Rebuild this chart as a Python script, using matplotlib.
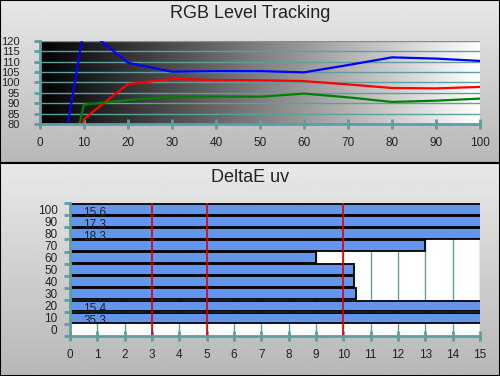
import numpy as np
import matplotlib
matplotlib.use("Agg")
import matplotlib.pyplot as plt

plt.rcParams['font.family'] = ['Liberation Sans', 'DejaVu Sans']

# RGB level tracking data
levels = [0, 10, 20, 30, 40, 50, 60, 70, 80, 90, 100]
blue = [0, 126.5, 109.4, 105.1, 105.4, 105.4, 104.8, 108.3, 112.0, 111.4, 110.3]
red = [0, 82.5, 99.2, 101.6, 101.1, 101.0, 100.6, 99.0, 97.3, 97.1, 97.8]
green = [0, 89.3, 91.5, 93.1, 93.2, 93.1, 94.6, 92.8, 90.6, 91.2, 92.2]

# DeltaE uv data
de_levels = ['0', '10', '20', '30', '40', '50', '60', '70', '80', '90', '100']
de_values = [0, 35.3, 15.4, 10.48, 10.40, 10.40, 9.0, 12.97, 18.3, 17.3, 15.6]
ref_lines = [3, 5, 10]

teal = '#5f9ea0'
W, H = 500, 376

fig = plt.figure(figsize=(5, 3.76), dpi=100)


def panel(bottom, height):
    """ Gray gradient panel with a black border """
    bg = fig.add_axes([0, bottom, 1, height], zorder=-5)
    grad = np.linspace(0.91, 0.72, 100).reshape(-1, 1)
    bg.imshow(grad, cmap='gray', vmin=0, vmax=1, aspect='auto',
              extent=[0, 1, 0, 1])
    bg.set_xlim(0, 1)
    bg.set_ylim(0, 1)
    bg.set_xticks([])
    bg.set_yticks([])
    for s in bg.spines.values():
        s.set_color('black')
        s.set_linewidth(1.5)
    return bg


split = 1 - 163 / H
panel(split, 1 - split)
panel(0, split)

# top chart
ax1 = fig.add_axes([40 / W, 1 - 124 / H, 440 / W, (124 - 40.7) / H])
grad = np.linspace(0, 1, 256).reshape(1, -1)
ax1.imshow(grad, cmap='gray', vmin=0, vmax=1, aspect='auto',
           extent=[0, 100, 80, 120], zorder=0)
for yv in range(80, 121, 5):
    ax1.axhline(yv, color=teal, lw=1, zorder=1)
ax1.plot(levels, blue, color='#0000ff', lw=1.6, zorder=3)
ax1.plot(levels, red, color='#ff0000', lw=1.6, zorder=3)
ax1.plot(levels, green, color='#008000', lw=1.6, zorder=3)
ax1.set_xlim(0, 100)
ax1.set_ylim(80, 120)
ax1.set_xticks(levels)
ax1.set_yticks(range(80, 121, 5))
for s in ['top', 'right']:
    ax1.spines[s].set_visible(False)
for s in ['left', 'bottom']:
    ax1.spines[s].set_color(teal)
    ax1.spines[s].set_linewidth(2)
    ax1.spines[s].set_zorder(4)
ax1.tick_params(axis='x', direction='inout', length=7, width=2, color=teal,
                labelsize=8.5, pad=6, labelcolor='#222222')
ax1.tick_params(axis='y', direction='out', length=4, width=2, color=teal,
                labelsize=8, pad=10.5, labelcolor='#222222')
fig.text(0.5, 1 - 14 / H, 'RGB Level Tracking', ha='center', va='center',
         fontsize=13, color='#222222')

# bottom chart
ax2 = fig.add_axes([70 / W, 1 - 336 / H, 410 / W, (336 - 203.3) / H])
ax2.set_facecolor('white')
ypos = np.arange(len(de_levels))
for xv in range(0, 16):
    ax2.axvline(xv, color=teal, lw=1, zorder=1)
ax2.barh(ypos, de_values, height=0.88, color='#6495ed', edgecolor='black',
         linewidth=1.3, zorder=2)
for xv in ref_lines:
    ax2.axvline(xv, color='#e00000', lw=1.2, zorder=3)
for y, v in zip(ypos, de_values):
    if v > 15:
        ax2.text(0.9, y - 0.28, f'{v:.1f}', ha='center', va='center',
                 fontsize=8.5, color='#222222', zorder=4)
ax2.set_xlim(0, 15)
ax2.set_ylim(-0.5, len(de_levels) - 0.5)
ax2.set_xticks(range(0, 16))
ax2.set_yticks(ypos)
ax2.set_yticklabels(de_levels)
ax2.set_yticks(np.arange(-0.5, len(de_levels)), minor=True)
for s in ['top', 'right']:
    ax2.spines[s].set_visible(False)
for s in ['left', 'bottom']:
    ax2.spines[s].set_color(teal)
    ax2.spines[s].set_linewidth(2)
    ax2.spines[s].set_zorder(5)
ax2.tick_params(axis='x', direction='inout', length=7, width=2, color=teal,
                labelsize=8.5, pad=6, labelcolor='#222222')
ax2.tick_params(axis='y', which='major', length=0, labelsize=8.5, pad=9,
                labelcolor='#222222')
ax2.tick_params(axis='y', which='minor', direction='out', length=4, width=2,
                color=teal)
fig.text(0.5, 1 - 177 / H, 'DeltaE uv', ha='center', va='center',
         fontsize=13, color='#222222')

fig.savefig('out.png', dpi=100)
